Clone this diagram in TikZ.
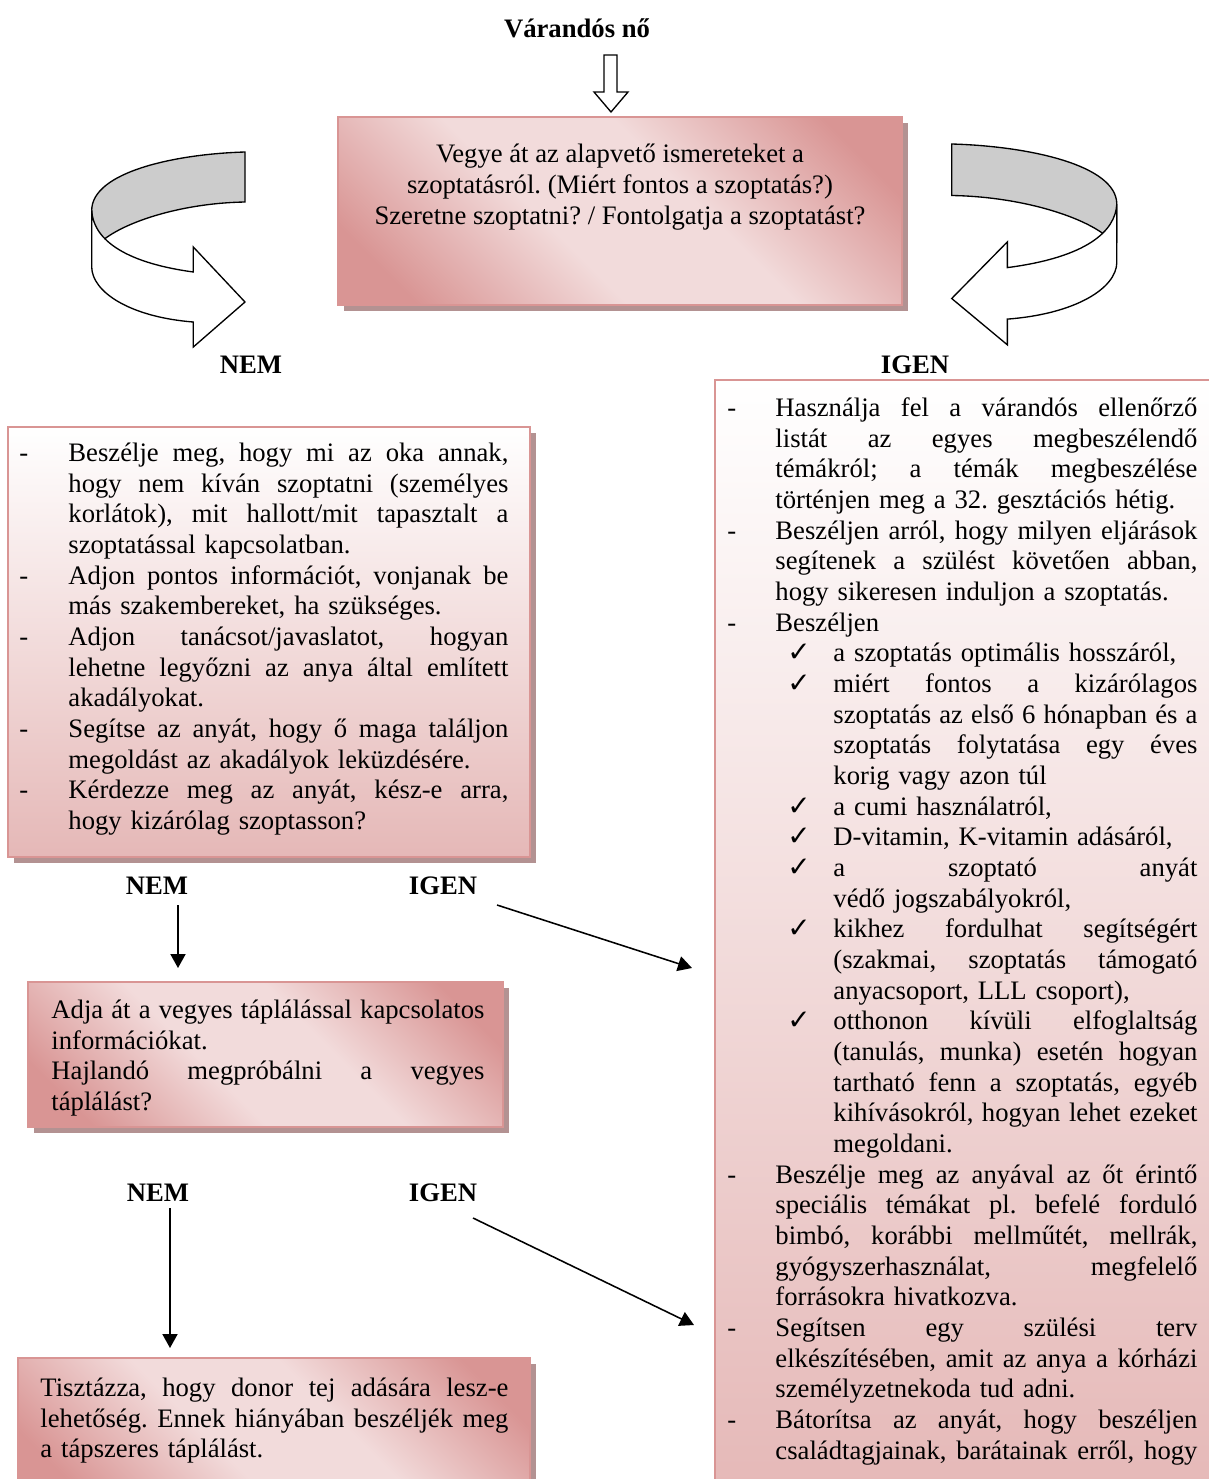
\documentclass[tikz,border=0pt]{standalone}
\usepackage{fontspec}
\setmainfont{Liberation Serif}
\newfontfamily\pipafont{DejaVu Sans}
\usetikzlibrary{arrows.meta,fit,shadows}

\definecolor{rozsa}{HTML}{D99594}
\definecolor{halvany}{HTML}{F2DBDB}
\definecolor{kozep}{HTML}{E5B8B7}
\definecolor{arnyek}{HTML}{B39292}
\definecolor{szurke}{HTML}{CCCCCC}

\pgfdeclarehorizontalshading{atlos}{100bp}{color(0bp)=(rozsa); color(22bp)=(rozsa); color(42bp)=(halvany); color(58bp)=(halvany); color(78bp)=(rozsa); color(100bp)=(rozsa)}

% sorok a listakban
\newlength\kozw
\newlength\sorw
\newlength\alw
\newcommand\pipa{\makebox[20.7pt][l]{\pipafont\fontsize{12.5}{12.5}\selectfont ✓}}
\newcommand\sorkiz[2]{\makebox[#1][s]{\spaceskip=0pt\xspaceskip=0pt #2}}
\newcommand\pontJ[1]{\makebox[\kozw][l]{-}\sorkiz{\sorw}{#1}}
\newcommand\pontL[1]{\makebox[\kozw][l]{-}\makebox[\sorw][l]{#1}}
\newcommand\sorJ[1]{\hspace*{\kozw}\sorkiz{\sorw}{#1}}
\newcommand\sorL[1]{\hspace*{\kozw}\makebox[\sorw][l]{#1}}
\newcommand\pipaJ[1]{\hspace*{\kozw}\hspace*{5.4pt}\pipa\sorkiz{\alw}{#1}}
\newcommand\pipaL[1]{\hspace*{\kozw}\hspace*{5.4pt}\pipa\makebox[\alw][l]{#1}}
\newcommand\alJ[1]{\hspace*{\kozw}\hspace*{26.1pt}\sorkiz{\alw}{#1}}
\newcommand\alL[1]{\hspace*{\kozw}\hspace*{26.1pt}\makebox[\alw][l]{#1}}

\begin{document}
\begin{tikzpicture}[x=0.45pt, y=-0.45pt,
  cimke/.style={font=\bfseries\fontsize{12}{13.8}\selectfont, inner sep=0},
  szoveg/.style={font=\fontsize{12}{13.8}\selectfont\frenchspacing, inner sep=0, text width=240pt, align=left, anchor=north west, execute at begin node=\strut},
  doboz/.style={draw=rozsa, line width=0.8pt, inner sep=0, shading=atlos, shading angle=45,
    drop shadow={shadow xshift=2.7pt, shadow yshift=-2.7pt, fill=arnyek, opacity=1}},
  lista/.style={draw=rozsa, line width=0.8pt, inner sep=0, top color=white, bottom color=kozep,
    drop shadow={shadow xshift=2.7pt, shadow yshift=-2.7pt, fill=arnyek, opacity=1}},
  nyil/.style={line width=0.7pt, -{Triangle[width=6.8pt, length=6.3pt]}},
  kanyar/.pic={
    \path[draw=black, line width=0.6pt, fill=szurke] (0,0) .. controls (-70,2) and (-153,20) .. (-153.3,58.3)
      -- (-153.3,95) -- (-140,86.6) .. controls (-115,68) and (-60,51) .. (0,50) -- cycle;
    \path[draw=black, line width=0.6pt, fill=white] (-153.3,58.3) .. controls (-152,85) and (-125,110) .. (-51.7,120)
      -- (-51.7,95) -- (0,150) -- (-51.7,195) -- (-51.7,170)
      .. controls (-115,165) and (-153,140) .. (-153.3,115) -- cycle;
  }
]
\useasboundingbox (0,0) rectangle (1209,1479);
\clip (0,0) rectangle (1209,1479);

% felul
\node[cimke] (varandos) at (577,28) {Várandós nő};
\draw[line width=0.6pt, fill=white] (604,55) -- (617,55) -- (617,92) -- (628,92) -- (611,112) -- (594,92) -- (604,92) -- cycle;
\node[doboz, fit={(338,117) (902,305)}] (kerdes) {};
\node[font=\fontsize{12}{13.8}\selectfont\frenchspacing, inner sep=0, align=center, anchor=north, execute at begin node=\strut] (kerdesszoveg) at (620,144)
  {Vegye át az alapvető ismereteket a\\ szoptatásról. (Miért fontos a szoptatás?)\\ Szeretne szoptatni? / Fontolgatja a szoptatást?};

\pic at (245,152) {kanyar};
\pic[xscale=-1.077, yscale=1.03] at (951.7,144) {kanyar};

\node[cimke] (nem1) at (251,365) {NEM};
\node[cimke] (igen1) at (915,365) {IGEN};

% NEM ag
\node[lista, fit={(8,427) (530,857)}] (nemdoboz) {};
\node[szoveg] (nemszoveg) at (19,439.5) {\setlength\kozw{22.05pt}\setlength\sorw{198pt}%
\pontJ{Beszélje meg, hogy mi az oka annak,}\\
\sorJ{hogy nem kíván szoptatni (személyes}\\
\sorJ{korlátok), mit hallott/mit tapasztalt a}\\
\sorL{szoptatással kapcsolatban.}\\
\pontJ{Adjon pontos információt, vonjanak be}\\
\sorL{más szakembereket, ha szükséges.}\\
\pontJ{Adjon tanácsot/javaslatot, hogyan}\\
\sorJ{lehetne legyőzni az anya által említett}\\
\sorL{akadályokat.}\\
\pontJ{Segítse az anyát, hogy ő maga találjon}\\
\sorL{megoldást az akadályok leküzdésére.}\\
\pontJ{Kérdezze meg az anyát, kész-e arra,}\\
\sorL{hogy kizárólag szoptasson?}};

% IGEN ag
\node[lista, fit={(715,380) (1230,1500)}] (igendoboz) {};
\node[szoveg] (igenszoveg) at (727,394.5) {\setlength\kozw{21.6pt}\setlength\sorw{189.9pt}\setlength\alw{163.8pt}%
\pontJ{Használja fel a várandós ellenőrző}\\
\sorJ{listát az egyes megbeszélendő}\\
\sorJ{témákról; a témák megbeszélése}\\
\sorL{történjen meg a 32. gesztációs hétig.}\\
\pontJ{Beszéljen arról, hogy milyen eljárások}\\
\sorJ{segítenek a szülést követően abban,}\\
\sorL{hogy sikeresen induljon a szoptatás.}\\
\pontL{Beszéljen}\\
\pipaL{a szoptatás optimális hosszáról,}\\
\pipaJ{miért fontos a kizárólagos}\\
\alJ{szoptatás az első 6 hónapban és a}\\
\alJ{szoptatás folytatása egy éves}\\
\alL{korig vagy azon túl}\\
\pipaL{a cumi használatról,}\\
\pipaL{D-vitamin, K-vitamin adásáról,}\\
\pipaJ{a szoptató anyát}\\
\alL{védő jogszabályokról,}\\
\pipaJ{kikhez fordulhat segítségért}\\
\alJ{(szakmai, szoptatás támogató}\\
\alL{anyacsoport, LLL csoport),}\\
\pipaJ{otthonon kívüli elfoglaltság}\\
\alJ{(tanulás, munka) esetén hogyan}\\
\alJ{tartható fenn a szoptatás, egyéb}\\
\alJ{kihívásokról, hogyan lehet ezeket}\\
\alL{megoldani.}\\
\pontJ{Beszélje meg az anyával az őt érintő}\\
\sorJ{speciális témákat pl. befelé forduló}\\
\sorJ{bimbó, korábbi mellműtét, mellrák,}\\
\sorJ{gyógyszerhasználat, megfelelő}\\
\sorL{forrásokra hivatkozva.}\\
\pontJ{Segítsen egy szülési terv}\\
\sorJ{elkészítésében, amit az anya a kórházi}\\
\sorL{személyzetnekoda tud adni.}\\
\pontJ{Bátorítsa az anyát, hogy beszéljen}\\
\sorJ{családtagjainak, barátainak erről, hogy}};

% masodik dontes
\node[cimke] (nem2) at (157,886) {NEM};
\node[cimke] (igen2) at (443,886) {IGEN};
\coordinate (nem2ki) at (178,905);
\coordinate (nem2be) at (178,968);
\coordinate (igen2ki) at (497,905);
\coordinate (igen2be) at (692,968);
\draw[nyil] (nem2ki) -- (nem2be);
\draw[nyil] (igen2ki) -- (igen2be);

\node[doboz, fit={(28,982) (503,1127)}] (vegyes) {};
\node[szoveg] (vegyesszoveg) at (51,996.5) {\setlength\kozw{0pt}\setlength\sorw{194.9pt}%
\sorJ{Adja át a vegyes táplálással kapcsolatos}\\
\sorL{információkat.}\\
\sorJ{Hajlandó megpróbálni a vegyes}\\
\sorL{táplálást?}};

% harmadik dontes
\node[cimke] (nem3) at (158,1193) {NEM};
\node[cimke] (igen3) at (443,1193) {IGEN};
\coordinate (nem3ki) at (170,1208);
\coordinate (nem3be) at (170,1348);
\coordinate (igen3ki) at (473,1218);
\coordinate (igen3be) at (694,1325);
\draw[nyil] (nem3ki) -- (nem3be);
\draw[nyil] (igen3ki) -- (igen3be);

\node[doboz, fit={(18,1358) (530,1500)}] (donor) {};
\node[szoveg] (donorszoveg) at (40,1374.5) {\setlength\kozw{0pt}\setlength\sorw{210.6pt}%
\sorJ{Tisztázza, hogy donor tej adására lesz-e}\\
\sorJ{lehetőség. Ennek hiányában beszéljék meg}\\
\sorL{a tápszeres táplálást.}};
\end{tikzpicture}
\end{document}
